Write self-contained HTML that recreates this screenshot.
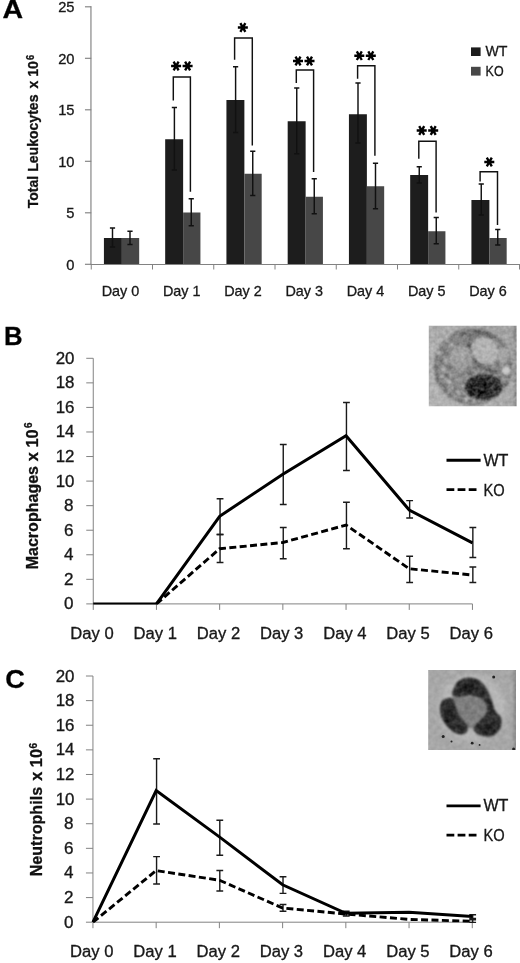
<!DOCTYPE html>
<html><head><meta charset="utf-8"><title>Figure</title>
<style>
html,body{margin:0;padding:0;background:#fff;}
svg{display:block;font-family:"Liberation Sans", sans-serif;filter:blur(0.4px);}
text{font-family:"Liberation Sans", sans-serif;stroke:#111;stroke-width:0.3px;}
</style></head>
<body>
<svg width="520" height="963" viewBox="0 0 520 963">
<rect width="520" height="963" fill="#fff"/>
<g id="panelA">
<rect x="103.92" y="238.00" width="17.95" height="26.50" fill="#1d1d1d"/>
<rect x="121.88" y="238.00" width="17.30" height="26.50" fill="#474747"/>
<rect x="165.18" y="139.25" width="17.95" height="125.25" fill="#1d1d1d"/>
<rect x="183.12" y="212.50" width="17.30" height="52.00" fill="#474747"/>
<rect x="226.43" y="100.00" width="17.95" height="164.50" fill="#1d1d1d"/>
<rect x="244.38" y="173.75" width="17.30" height="90.75" fill="#474747"/>
<rect x="287.68" y="121.25" width="17.95" height="143.25" fill="#1d1d1d"/>
<rect x="305.62" y="196.75" width="17.30" height="67.75" fill="#474747"/>
<rect x="348.93" y="114.25" width="17.95" height="150.25" fill="#1d1d1d"/>
<rect x="366.88" y="186.25" width="17.30" height="78.25" fill="#474747"/>
<rect x="410.18" y="175.00" width="17.95" height="89.50" fill="#1d1d1d"/>
<rect x="428.12" y="231.25" width="17.30" height="33.25" fill="#474747"/>
<rect x="471.43" y="200.00" width="17.95" height="64.50" fill="#1d1d1d"/>
<rect x="489.38" y="238.00" width="17.30" height="26.50" fill="#474747"/>
<path d="M90.95 6.3V264.5H520" fill="none" stroke="#828282" stroke-width="1.15"/>
<path d="M84.95 264.30H91.25" stroke="#828282" stroke-width="1.15"/>
<path d="M84.95 212.80H91.25" stroke="#828282" stroke-width="1.15"/>
<path d="M84.95 161.30H91.25" stroke="#828282" stroke-width="1.15"/>
<path d="M84.95 109.80H91.25" stroke="#828282" stroke-width="1.15"/>
<path d="M84.95 58.30H91.25" stroke="#828282" stroke-width="1.15"/>
<path d="M84.95 6.80H91.25" stroke="#828282" stroke-width="1.15"/>
<path d="M91.25 264.5V269.5" stroke="#828282" stroke-width="1"/>
<path d="M152.50 264.5V269.5" stroke="#828282" stroke-width="1"/>
<path d="M213.75 264.5V269.5" stroke="#828282" stroke-width="1"/>
<path d="M275.00 264.5V269.5" stroke="#828282" stroke-width="1"/>
<path d="M336.25 264.5V269.5" stroke="#828282" stroke-width="1"/>
<path d="M397.50 264.5V269.5" stroke="#828282" stroke-width="1"/>
<path d="M458.75 264.5V269.5" stroke="#828282" stroke-width="1"/>
<path d="M519.50 264.5V269.5" stroke="#828282" stroke-width="1"/>
<path d="M112.50 228.00V247.00M109.90 228.00h5.2M109.90 247.00h5.2" stroke="#111" stroke-width="1.45" fill="none"/>
<path d="M130.00 231.25V244.50M127.40 231.25h5.2M127.40 244.50h5.2" stroke="#111" stroke-width="1.45" fill="none"/>
<path d="M174.40 107.50V170.00M171.80 107.50h5.2M171.80 170.00h5.2" stroke="#111" stroke-width="1.45" fill="none"/>
<path d="M191.25 198.75V225.75M188.65 198.75h5.2M188.65 225.75h5.2" stroke="#111" stroke-width="1.45" fill="none"/>
<path d="M235.60 66.75V132.50M233.00 66.75h5.2M233.00 132.50h5.2" stroke="#111" stroke-width="1.45" fill="none"/>
<path d="M252.75 151.25V195.50M250.15 151.25h5.2M250.15 195.50h5.2" stroke="#111" stroke-width="1.45" fill="none"/>
<path d="M296.75 88.00V153.75M294.15 88.00h5.2M294.15 153.75h5.2" stroke="#111" stroke-width="1.45" fill="none"/>
<path d="M314.25 178.75V213.75M311.65 178.75h5.2M311.65 213.75h5.2" stroke="#111" stroke-width="1.45" fill="none"/>
<path d="M358.00 83.00V143.00M355.40 83.00h5.2M355.40 143.00h5.2" stroke="#111" stroke-width="1.45" fill="none"/>
<path d="M375.50 163.25V208.75M372.90 163.25h5.2M372.90 208.75h5.2" stroke="#111" stroke-width="1.45" fill="none"/>
<path d="M419.25 166.75V183.00M416.65 166.75h5.2M416.65 183.00h5.2" stroke="#111" stroke-width="1.45" fill="none"/>
<path d="M436.25 217.50V243.75M433.65 217.50h5.2M433.65 243.75h5.2" stroke="#111" stroke-width="1.45" fill="none"/>
<path d="M481.25 184.00V215.00M478.65 184.00h5.2M478.65 215.00h5.2" stroke="#111" stroke-width="1.45" fill="none"/>
<path d="M497.75 229.50V245.00M495.15 229.50h5.2M495.15 245.00h5.2" stroke="#111" stroke-width="1.45" fill="none"/>
<path d="M173.3 100.5V77.0H190.4V191.75" fill="none" stroke="#111" stroke-width="1.45"/>
<path d="M171.10 66.00L181.10 66.00M173.60 61.67L178.60 70.33M178.60 61.67L173.60 70.33" stroke="#000" stroke-width="2.35" fill="none"/>
<path d="M182.60 66.00L192.60 66.00M185.10 61.67L190.10 70.33M190.10 61.67L185.10 70.33" stroke="#000" stroke-width="2.35" fill="none"/>
<path d="M234.6 59.7V38.0H252.3V145.5" fill="none" stroke="#111" stroke-width="1.45"/>
<path d="M237.85 27.50L247.85 27.50M240.35 23.17L245.35 31.83M245.35 23.17L240.35 31.83" stroke="#000" stroke-width="2.35" fill="none"/>
<path d="M296.3 83.0V70.0H313.6V172.0" fill="none" stroke="#111" stroke-width="1.45"/>
<path d="M293.00 61.00L303.00 61.00M295.50 56.67L300.50 65.33M300.50 56.67L295.50 65.33" stroke="#000" stroke-width="2.35" fill="none"/>
<path d="M304.50 61.00L314.50 61.00M307.00 56.67L312.00 65.33M312.00 56.67L307.00 65.33" stroke="#000" stroke-width="2.35" fill="none"/>
<path d="M357.6 78.75V65.75H374.9V155.75" fill="none" stroke="#111" stroke-width="1.45"/>
<path d="M354.30 55.70L364.30 55.70M356.80 51.37L361.80 60.03M361.80 51.37L356.80 60.03" stroke="#000" stroke-width="2.35" fill="none"/>
<path d="M365.80 55.70L375.80 55.70M368.30 51.37L373.30 60.03M373.30 51.37L368.30 60.03" stroke="#000" stroke-width="2.35" fill="none"/>
<path d="M418.8 158.75V141.25H436.1V212.5" fill="none" stroke="#111" stroke-width="1.45"/>
<path d="M416.70 130.50L426.70 130.50M419.20 126.17L424.20 134.83M424.20 126.17L419.20 134.83" stroke="#000" stroke-width="2.35" fill="none"/>
<path d="M428.20 130.50L438.20 130.50M430.70 126.17L435.70 134.83M435.70 126.17L430.70 134.83" stroke="#000" stroke-width="2.35" fill="none"/>
<path d="M480.1 181.5V171.75H497.5V225.0" fill="none" stroke="#111" stroke-width="1.45"/>
<path d="M484.30 162.00L494.30 162.00M486.80 157.67L491.80 166.33M491.80 157.67L486.80 166.33" stroke="#000" stroke-width="2.35" fill="none"/>
<text x="74.5" y="269.60" font-size="14.7" text-anchor="end" fill="#1a1a1a">0</text>
<text x="74.5" y="218.10" font-size="14.7" text-anchor="end" fill="#1a1a1a">5</text>
<text x="74.5" y="166.60" font-size="14.7" text-anchor="end" fill="#1a1a1a">10</text>
<text x="74.5" y="115.10" font-size="14.7" text-anchor="end" fill="#1a1a1a">15</text>
<text x="74.5" y="63.60" font-size="14.7" text-anchor="end" fill="#1a1a1a">20</text>
<text x="74.5" y="12.10" font-size="14.7" text-anchor="end" fill="#1a1a1a">25</text>
<text x="120.47" y="296.4" font-size="14.8" text-anchor="middle" fill="#1a1a1a" textLength="37.6" lengthAdjust="spacingAndGlyphs">Day 0</text>
<text x="181.72" y="296.4" font-size="14.8" text-anchor="middle" fill="#1a1a1a" textLength="37.6" lengthAdjust="spacingAndGlyphs">Day 1</text>
<text x="242.97" y="296.4" font-size="14.8" text-anchor="middle" fill="#1a1a1a" textLength="37.6" lengthAdjust="spacingAndGlyphs">Day 2</text>
<text x="304.23" y="296.4" font-size="14.8" text-anchor="middle" fill="#1a1a1a" textLength="37.6" lengthAdjust="spacingAndGlyphs">Day 3</text>
<text x="365.48" y="296.4" font-size="14.8" text-anchor="middle" fill="#1a1a1a" textLength="37.6" lengthAdjust="spacingAndGlyphs">Day 4</text>
<text x="426.73" y="296.4" font-size="14.8" text-anchor="middle" fill="#1a1a1a" textLength="37.6" lengthAdjust="spacingAndGlyphs">Day 5</text>
<text x="487.98" y="296.4" font-size="14.8" text-anchor="middle" fill="#1a1a1a" textLength="37.6" lengthAdjust="spacingAndGlyphs">Day 6</text>
<text transform="translate(38.3 208.3) rotate(-90)" font-size="14" font-weight="bold" fill="#111" textLength="113.8" lengthAdjust="spacingAndGlyphs">Total Leukocytes</text>
<text transform="translate(38.3 88.6) rotate(-90)" font-size="14" font-weight="bold" fill="#111" textLength="27.4" lengthAdjust="spacingAndGlyphs">x 10</text>
<text transform="translate(33.8 60.1) rotate(-90)" font-size="10.2" font-weight="bold" fill="#111" textLength="5.2" lengthAdjust="spacingAndGlyphs">6</text>
<rect x="471" y="47.4" width="9.6" height="8.6" fill="#1c1c1c"/>
<rect x="471" y="66.8" width="9.6" height="8.8" fill="#474747"/>
<text x="485.4" y="55.9" font-size="14.3" fill="#1a1a1a" textLength="22" lengthAdjust="spacingAndGlyphs">WT</text>
<text x="485.6" y="76.1" font-size="14.3" fill="#1a1a1a" textLength="18" lengthAdjust="spacingAndGlyphs">KO</text>
<text x="2.4" y="18.4" font-size="25.2" font-weight="bold" fill="#000" textLength="20.6" lengthAdjust="spacingAndGlyphs">A</text>
</g>
<g id="panelB">
<path d="M93.25 358.30V603.9H472.45" fill="none" stroke="#828282" stroke-width="1"/>
<path d="M86.25 603.90H93.25" stroke="#828282" stroke-width="1"/>
<path d="M86.25 579.34H93.25" stroke="#828282" stroke-width="1"/>
<path d="M86.25 554.78H93.25" stroke="#828282" stroke-width="1"/>
<path d="M86.25 530.22H93.25" stroke="#828282" stroke-width="1"/>
<path d="M86.25 505.66H93.25" stroke="#828282" stroke-width="1"/>
<path d="M86.25 481.10H93.25" stroke="#828282" stroke-width="1"/>
<path d="M86.25 456.54H93.25" stroke="#828282" stroke-width="1"/>
<path d="M86.25 431.98H93.25" stroke="#828282" stroke-width="1"/>
<path d="M86.25 407.42H93.25" stroke="#828282" stroke-width="1"/>
<path d="M86.25 382.86H93.25" stroke="#828282" stroke-width="1"/>
<path d="M86.25 358.30H93.25" stroke="#828282" stroke-width="1"/>
<path d="M93.25 603.9V609.9" stroke="#828282" stroke-width="1"/>
<path d="M156.45 603.9V609.9" stroke="#828282" stroke-width="1"/>
<path d="M219.65 603.9V609.9" stroke="#828282" stroke-width="1"/>
<path d="M282.85 603.9V609.9" stroke="#828282" stroke-width="1"/>
<path d="M346.05 603.9V609.9" stroke="#828282" stroke-width="1"/>
<path d="M409.25 603.9V609.9" stroke="#828282" stroke-width="1"/>
<path d="M472.45 603.9V609.9" stroke="#828282" stroke-width="1"/>
<path d="M220.05 498.75V534.50M216.65 498.75h6.8M216.65 534.50h6.8" stroke="#1a1a1a" stroke-width="1.4" fill="none"/>
<path d="M283.25 444.50V504.50M279.85 444.50h6.8M279.85 504.50h6.8" stroke="#1a1a1a" stroke-width="1.4" fill="none"/>
<path d="M346.45 402.50V470.50M343.05 402.50h6.8M343.05 470.50h6.8" stroke="#1a1a1a" stroke-width="1.4" fill="none"/>
<path d="M409.65 500.60V518.00M406.25 500.60h6.8M406.25 518.00h6.8" stroke="#1a1a1a" stroke-width="1.4" fill="none"/>
<path d="M472.85 527.50V557.50M469.45 527.50h6.8M469.45 557.50h6.8" stroke="#1a1a1a" stroke-width="1.4" fill="none"/>
<path d="M220.05 534.50V562.50M216.65 534.50h6.8M216.65 562.50h6.8" stroke="#1a1a1a" stroke-width="1.4" fill="none"/>
<path d="M283.25 527.50V558.75M279.85 527.50h6.8M279.85 558.75h6.8" stroke="#1a1a1a" stroke-width="1.4" fill="none"/>
<path d="M346.45 502.20V548.75M343.05 502.20h6.8M343.05 548.75h6.8" stroke="#1a1a1a" stroke-width="1.4" fill="none"/>
<path d="M409.65 556.25V582.50M406.25 556.25h6.8M406.25 582.50h6.8" stroke="#1a1a1a" stroke-width="1.4" fill="none"/>
<path d="M472.85 567.00V582.50M469.45 567.00h6.8M469.45 582.50h6.8" stroke="#1a1a1a" stroke-width="1.4" fill="none"/>
<clipPath id="cppanelB"><rect x="91.25" y="338.30" width="385.20" height="266.10"/></clipPath>
<g clip-path="url(#cppanelB)">
<polyline points="156.45,603.90 219.65,548.75 282.85,542.50 346.05,525.00 409.25,568.75 472.45,575.00" fill="none" stroke="#000" stroke-width="2.9" stroke-dasharray="7 3.4" stroke-linejoin="miter"/>
<polyline points="93.25,603.90 156.45,603.90 219.65,516.25 282.85,474.25 346.05,435.75 409.25,510.00 472.45,542.80" fill="none" stroke="#000" stroke-width="3.0" stroke-linejoin="miter"/>
</g>
<text x="64.00" y="609.40" font-size="15.6" fill="#1a1a1a" textLength="9.5" lengthAdjust="spacingAndGlyphs">0</text>
<text x="64.00" y="584.84" font-size="15.6" fill="#1a1a1a" textLength="9.5" lengthAdjust="spacingAndGlyphs">2</text>
<text x="64.00" y="560.28" font-size="15.6" fill="#1a1a1a" textLength="9.5" lengthAdjust="spacingAndGlyphs">4</text>
<text x="64.00" y="535.72" font-size="15.6" fill="#1a1a1a" textLength="9.5" lengthAdjust="spacingAndGlyphs">6</text>
<text x="64.00" y="511.16" font-size="15.6" fill="#1a1a1a" textLength="9.5" lengthAdjust="spacingAndGlyphs">8</text>
<text x="55.70" y="486.60" font-size="15.6" fill="#1a1a1a" textLength="18.8" lengthAdjust="spacingAndGlyphs">10</text>
<text x="55.70" y="462.04" font-size="15.6" fill="#1a1a1a" textLength="18.8" lengthAdjust="spacingAndGlyphs">12</text>
<text x="55.70" y="437.48" font-size="15.6" fill="#1a1a1a" textLength="18.8" lengthAdjust="spacingAndGlyphs">14</text>
<text x="55.70" y="412.92" font-size="15.6" fill="#1a1a1a" textLength="18.8" lengthAdjust="spacingAndGlyphs">16</text>
<text x="55.70" y="388.36" font-size="15.6" fill="#1a1a1a" textLength="18.8" lengthAdjust="spacingAndGlyphs">18</text>
<text x="55.70" y="363.80" font-size="15.6" fill="#1a1a1a" textLength="18.8" lengthAdjust="spacingAndGlyphs">20</text>
<text x="92.05" y="638.8" font-size="16" text-anchor="middle" fill="#1a1a1a" textLength="43.4" lengthAdjust="spacingAndGlyphs">Day 0</text>
<text x="155.25" y="638.8" font-size="16" text-anchor="middle" fill="#1a1a1a" textLength="43.4" lengthAdjust="spacingAndGlyphs">Day 1</text>
<text x="218.45" y="638.8" font-size="16" text-anchor="middle" fill="#1a1a1a" textLength="43.4" lengthAdjust="spacingAndGlyphs">Day 2</text>
<text x="281.65" y="638.8" font-size="16" text-anchor="middle" fill="#1a1a1a" textLength="43.4" lengthAdjust="spacingAndGlyphs">Day 3</text>
<text x="344.85" y="638.8" font-size="16" text-anchor="middle" fill="#1a1a1a" textLength="43.4" lengthAdjust="spacingAndGlyphs">Day 4</text>
<text x="408.05" y="638.8" font-size="16" text-anchor="middle" fill="#1a1a1a" textLength="43.4" lengthAdjust="spacingAndGlyphs">Day 5</text>
<text x="471.25" y="638.8" font-size="16" text-anchor="middle" fill="#1a1a1a" textLength="43.4" lengthAdjust="spacingAndGlyphs">Day 6</text>
<text transform="translate(37.5 569.3) rotate(-90)" font-size="16.3" font-weight="bold" fill="#111" textLength="103.3" lengthAdjust="spacingAndGlyphs">Macrophages</text>
<text transform="translate(37.5 461.2) rotate(-90)" font-size="16.3" font-weight="bold" fill="#111" textLength="31.8" lengthAdjust="spacingAndGlyphs">x 10</text>
<text transform="translate(32.0 428.0) rotate(-90)" font-size="11.3" font-weight="bold" fill="#111" textLength="5.6" lengthAdjust="spacingAndGlyphs">6</text>
<path d="M446.5 460.3H480.6" stroke="#000" stroke-width="2.9"/>
<text x="483.4" y="465.7" font-size="16" fill="#1a1a1a" textLength="25" lengthAdjust="spacingAndGlyphs">WT</text>
<path d="M446.5 489.7H476.6" stroke="#000" stroke-width="2.8" stroke-dasharray="7.8 3.3"/>
<text x="483.4" y="495.7" font-size="16" fill="#1a1a1a" textLength="21.2" lengthAdjust="spacingAndGlyphs">KO</text>
<text x="3.9" y="345.3" font-size="25.2" font-weight="bold" fill="#000" textLength="18.6" lengthAdjust="spacingAndGlyphs">B</text>
</g>
<g id="micB">
<defs>
<filter id="texB" x="-10%" y="-10%" width="120%" height="120%" color-interpolation-filters="sRGB">
<feGaussianBlur in="SourceGraphic" stdDeviation="1.0" result="b"/>
<feTurbulence type="fractalNoise" baseFrequency="0.23" numOctaves="2" seed="11" result="t"/>
<feColorMatrix in="t" type="matrix" values="1 0 0 0 0  1 0 0 0 0  1 0 0 0 0  0 0 0 0 1" result="g"/>
<feComposite in="b" in2="g" operator="arithmetic" k1="-0.6" k2="1.3" k3="0.6" k4="-0.3" result="m"/>
<feGaussianBlur in="m" stdDeviation="0.45"/>
</filter>
<filter id="texBbg" x="0" y="0" width="100%" height="100%" color-interpolation-filters="sRGB">
<feTurbulence type="fractalNoise" baseFrequency="0.3" numOctaves="2" seed="4" result="t"/>
<feColorMatrix in="t" type="matrix" values="1 0 0 0 0  1 0 0 0 0  1 0 0 0 0  0 0 0 0 1" result="g"/>
<feComposite in="SourceGraphic" in2="g" operator="arithmetic" k1="0" k2="1" k3="0.12" k4="-0.06"/>
</filter>
<linearGradient id="bgB" x1="0" y1="1" x2="1" y2="0">
<stop offset="0" stop-color="#b4b4b4"/><stop offset="0.55" stop-color="#aaaaaa"/><stop offset="1" stop-color="#9c9c9c"/>
</linearGradient>
<clipPath id="clB"><rect x="428.8" y="325.8" width="87.8" height="80.4"/></clipPath>
</defs>
<g clip-path="url(#clB)">
<g filter="url(#texB)">
<rect x="420" y="318" width="106" height="96" fill="url(#bgB)"/>
<rect x="514" y="318" width="12" height="96" fill="#8e8e8e"/>
<ellipse cx="473.2" cy="366.6" rx="39.8" ry="38.8" fill="#909090"/>
<ellipse cx="473.2" cy="366.6" rx="37" ry="36" fill="none" stroke="#7a7a7a" stroke-width="3.5"/>
<ellipse cx="472" cy="366" rx="33" ry="32" fill="#868686"/>
<path d="M462 334 Q478 330 492 337" stroke="#6c6c6c" stroke-width="5" fill="none" stroke-linecap="round"/>
<path d="M470 340 Q468 352 477 362 Q484 368 494 372" stroke="#666" stroke-width="4.5" fill="none" stroke-linecap="round"/>
<ellipse cx="460.5" cy="357.5" rx="11" ry="12" fill="#a0a0a0"/>
<ellipse cx="455" cy="378" rx="8" ry="9" fill="#8c8c8c"/>
<ellipse cx="484.8" cy="350.8" rx="12.6" ry="14.6" fill="#b2b2b2" transform="rotate(-40 484.8 350.8)"/>
<ellipse cx="503.5" cy="355" rx="6" ry="7.5" fill="#a6a6a6"/>
<ellipse cx="483.5" cy="387" rx="18.6" ry="12.6" fill="#343434" transform="rotate(-4 483.5 387)"/>
<ellipse cx="479" cy="389.5" rx="12" ry="7.5" fill="#242424"/>
<circle cx="506.4" cy="370.4" r="4.2" fill="#cacaca"/>
<g fill="#c4c4c4">
<circle cx="437" cy="347" r="1.6"/><circle cx="442" cy="376" r="1.7"/><circle cx="453" cy="388" r="1.6"/><circle cx="447" cy="340" r="1.5"/><circle cx="439" cy="353" r="2"/><circle cx="443" cy="369" r="1.8"/><circle cx="449" cy="382" r="2"/>
<circle cx="458" cy="392" r="1.8"/><circle cx="452" cy="345" r="1.7"/><circle cx="466" cy="399" r="1.7"/>
<circle cx="446" cy="360" r="1.6"/><circle cx="463" cy="386" r="1.6"/>
<circle cx="474" cy="401" r="1.5"/><circle cx="490" cy="403" r="1.6"/>
</g>
<g fill="#666">
<circle cx="441" cy="361" r="1.6"/><circle cx="446" cy="376" r="1.6"/>
<circle cx="455" cy="388" r="1.5"/><circle cx="470" cy="373" r="2.4"/><circle cx="499" cy="378" r="2.4"/>
</g>
</g>
</g>
</g>
<g id="panelC">
<path d="M92.95 676.00V922.2H472.27" fill="none" stroke="#828282" stroke-width="1"/>
<path d="M85.95 922.20H92.95" stroke="#828282" stroke-width="1"/>
<path d="M85.95 897.58H92.95" stroke="#828282" stroke-width="1"/>
<path d="M85.95 872.96H92.95" stroke="#828282" stroke-width="1"/>
<path d="M85.95 848.34H92.95" stroke="#828282" stroke-width="1"/>
<path d="M85.95 823.72H92.95" stroke="#828282" stroke-width="1"/>
<path d="M85.95 799.10H92.95" stroke="#828282" stroke-width="1"/>
<path d="M85.95 774.48H92.95" stroke="#828282" stroke-width="1"/>
<path d="M85.95 749.86H92.95" stroke="#828282" stroke-width="1"/>
<path d="M85.95 725.24H92.95" stroke="#828282" stroke-width="1"/>
<path d="M85.95 700.62H92.95" stroke="#828282" stroke-width="1"/>
<path d="M85.95 676.00H92.95" stroke="#828282" stroke-width="1"/>
<path d="M92.95 922.2V928.2" stroke="#828282" stroke-width="1"/>
<path d="M156.17 922.2V928.2" stroke="#828282" stroke-width="1"/>
<path d="M219.39 922.2V928.2" stroke="#828282" stroke-width="1"/>
<path d="M282.61 922.2V928.2" stroke="#828282" stroke-width="1"/>
<path d="M345.83 922.2V928.2" stroke="#828282" stroke-width="1"/>
<path d="M409.05 922.2V928.2" stroke="#828282" stroke-width="1"/>
<path d="M472.27 922.2V928.2" stroke="#828282" stroke-width="1"/>
<path d="M156.57 758.80V824.00M153.17 758.80h6.8M153.17 824.00h6.8" stroke="#1a1a1a" stroke-width="1.4" fill="none"/>
<path d="M219.79 820.20V855.20M216.39 820.20h6.8M216.39 855.20h6.8" stroke="#1a1a1a" stroke-width="1.4" fill="none"/>
<path d="M283.01 876.70V893.40M279.61 876.70h6.8M279.61 893.40h6.8" stroke="#1a1a1a" stroke-width="1.4" fill="none"/>
<path d="M472.67 914.80V918.40M469.27 914.80h6.8M469.27 918.40h6.8" stroke="#1a1a1a" stroke-width="1.4" fill="none"/>
<path d="M156.57 856.60V884.00M153.17 856.60h6.8M153.17 884.00h6.8" stroke="#1a1a1a" stroke-width="1.4" fill="none"/>
<path d="M219.79 870.50V891.00M216.39 870.50h6.8M216.39 891.00h6.8" stroke="#1a1a1a" stroke-width="1.4" fill="none"/>
<path d="M283.01 904.50V911.20M279.61 904.50h6.8M279.61 911.20h6.8" stroke="#1a1a1a" stroke-width="1.4" fill="none"/>
<path d="M346.23 911.20V916.00M342.83 911.20h6.8M342.83 916.00h6.8" stroke="#1a1a1a" stroke-width="1.4" fill="none"/>
<path d="M472.67 919.80V922.40M469.27 919.80h6.8M469.27 922.40h6.8" stroke="#1a1a1a" stroke-width="1.4" fill="none"/>
<clipPath id="cppanelC"><rect x="90.95" y="656.00" width="385.32" height="266.70"/></clipPath>
<g clip-path="url(#cppanelC)">
<polyline points="92.95,922.20 156.17,870.60 219.39,880.20 282.61,908.00 345.83,914.00 409.05,919.40 472.27,921.30" fill="none" stroke="#000" stroke-width="2.9" stroke-dasharray="7 3.4" stroke-linejoin="miter"/>
<polyline points="92.95,922.20 156.17,790.60 219.39,836.90 282.61,884.80 345.83,913.30 409.05,912.30 472.27,916.50" fill="none" stroke="#000" stroke-width="3.0" stroke-linejoin="miter"/>
</g>
<text x="64.00" y="927.70" font-size="15.6" fill="#1a1a1a" textLength="9.5" lengthAdjust="spacingAndGlyphs">0</text>
<text x="64.00" y="903.08" font-size="15.6" fill="#1a1a1a" textLength="9.5" lengthAdjust="spacingAndGlyphs">2</text>
<text x="64.00" y="878.46" font-size="15.6" fill="#1a1a1a" textLength="9.5" lengthAdjust="spacingAndGlyphs">4</text>
<text x="64.00" y="853.84" font-size="15.6" fill="#1a1a1a" textLength="9.5" lengthAdjust="spacingAndGlyphs">6</text>
<text x="64.00" y="829.22" font-size="15.6" fill="#1a1a1a" textLength="9.5" lengthAdjust="spacingAndGlyphs">8</text>
<text x="55.70" y="804.60" font-size="15.6" fill="#1a1a1a" textLength="18.8" lengthAdjust="spacingAndGlyphs">10</text>
<text x="55.70" y="779.98" font-size="15.6" fill="#1a1a1a" textLength="18.8" lengthAdjust="spacingAndGlyphs">12</text>
<text x="55.70" y="755.36" font-size="15.6" fill="#1a1a1a" textLength="18.8" lengthAdjust="spacingAndGlyphs">14</text>
<text x="55.70" y="730.74" font-size="15.6" fill="#1a1a1a" textLength="18.8" lengthAdjust="spacingAndGlyphs">16</text>
<text x="55.70" y="706.12" font-size="15.6" fill="#1a1a1a" textLength="18.8" lengthAdjust="spacingAndGlyphs">18</text>
<text x="55.70" y="681.50" font-size="15.6" fill="#1a1a1a" textLength="18.8" lengthAdjust="spacingAndGlyphs">20</text>
<text x="91.75" y="957.3" font-size="16" text-anchor="middle" fill="#1a1a1a" textLength="43.4" lengthAdjust="spacingAndGlyphs">Day 0</text>
<text x="154.97" y="957.3" font-size="16" text-anchor="middle" fill="#1a1a1a" textLength="43.4" lengthAdjust="spacingAndGlyphs">Day 1</text>
<text x="218.19" y="957.3" font-size="16" text-anchor="middle" fill="#1a1a1a" textLength="43.4" lengthAdjust="spacingAndGlyphs">Day 2</text>
<text x="281.41" y="957.3" font-size="16" text-anchor="middle" fill="#1a1a1a" textLength="43.4" lengthAdjust="spacingAndGlyphs">Day 3</text>
<text x="344.63" y="957.3" font-size="16" text-anchor="middle" fill="#1a1a1a" textLength="43.4" lengthAdjust="spacingAndGlyphs">Day 4</text>
<text x="407.85" y="957.3" font-size="16" text-anchor="middle" fill="#1a1a1a" textLength="43.4" lengthAdjust="spacingAndGlyphs">Day 5</text>
<text x="471.07" y="957.3" font-size="16" text-anchor="middle" fill="#1a1a1a" textLength="43.4" lengthAdjust="spacingAndGlyphs">Day 6</text>
<text transform="translate(41.8 876.3) rotate(-90)" font-size="16.3" font-weight="bold" fill="#111" textLength="89.4" lengthAdjust="spacingAndGlyphs">Neutrophils</text>
<text transform="translate(41.8 780.8) rotate(-90)" font-size="16.3" font-weight="bold" fill="#111" textLength="31.8" lengthAdjust="spacingAndGlyphs">x 10</text>
<text transform="translate(37.0 748.6) rotate(-90)" font-size="11.3" font-weight="bold" fill="#111" textLength="5.6" lengthAdjust="spacingAndGlyphs">6</text>
<path d="M446.5 805.9H480.6" stroke="#000" stroke-width="2.9"/>
<text x="483.4" y="810.9" font-size="16" fill="#1a1a1a" textLength="25" lengthAdjust="spacingAndGlyphs">WT</text>
<path d="M446.5 835.1H476.6" stroke="#000" stroke-width="2.8" stroke-dasharray="7.8 3.3"/>
<text x="483.4" y="840.5" font-size="16" fill="#1a1a1a" textLength="21.2" lengthAdjust="spacingAndGlyphs">KO</text>
<text x="5.2" y="688.3" font-size="25.2" font-weight="bold" fill="#000" textLength="19.6" lengthAdjust="spacingAndGlyphs">C</text>
</g>
<g id="micC">
<defs>
<filter id="texC" x="-10%" y="-10%" width="120%" height="120%" color-interpolation-filters="sRGB">
<feGaussianBlur in="SourceGraphic" stdDeviation="1.0" result="b"/>
<feTurbulence type="fractalNoise" baseFrequency="0.2" numOctaves="2" seed="5" result="t"/>
<feColorMatrix in="t" type="matrix" values="1 0 0 0 0  1 0 0 0 0  1 0 0 0 0  0 0 0 0 1" result="g"/>
<feComposite in="b" in2="g" operator="arithmetic" k1="-0.3" k2="1.15" k3="0.3" k4="-0.15" result="m"/>
<feGaussianBlur in="m" stdDeviation="0.4"/>
</filter>
<filter id="blC2" x="-20%" y="-20%" width="140%" height="140%"><feGaussianBlur stdDeviation="0.7"/></filter>
<filter id="blC3" x="-20%" y="-20%" width="140%" height="140%"><feGaussianBlur stdDeviation="2.5"/></filter>
<clipPath id="clC"><rect x="428.2" y="670" width="87.8" height="80"/></clipPath>
</defs>
<g clip-path="url(#clC)">
<g filter="url(#texC)">
<rect x="420" y="662" width="104" height="96" fill="#a7a7a7"/>
<rect x="513.6" y="662" width="12" height="96" fill="#8c8c8c"/>
<circle cx="472" cy="708" r="34" fill="#b6b6b6" filter="url(#blC3)"/>
<path d="M454.8 696.9C458.7 694.7 475.9 697.6 481.3 699.4C486.7 701.2 486.6 704.9 487.1 707.7C487.7 710.5 487.1 712.8 484.6 716.0C482.1 719.2 475.4 725.6 472.2 726.7C469.0 727.8 468.0 724.9 465.6 722.6C463.2 720.3 459.9 717.0 458.1 712.7C456.3 708.4 450.9 699.1 454.8 696.9Z" fill="#7e7e7e" stroke="#7e7e7e" stroke-width="3"/>
<path d="M452.3 692.8C452.9 690.5 454.7 684.6 457.3 682.1C459.9 679.6 464.3 677.9 468.0 677.6C471.7 677.3 476.4 678.4 479.6 680.4C482.8 682.4 485.0 686.0 487.1 689.5C489.2 693.0 490.6 697.5 492.0 701.1C493.4 704.7 493.8 708.2 495.3 711.0C496.8 713.8 500.1 714.9 501.0 717.6C501.9 720.4 501.7 724.6 500.6 727.5C499.5 730.4 497.2 733.5 494.5 735.0C491.8 736.5 487.6 736.9 484.6 736.6C481.6 736.3 478.1 734.8 476.3 733.3C474.5 731.8 473.2 729.6 473.8 727.5C474.4 725.4 477.5 723.2 479.6 720.9C481.7 718.6 485.1 716.2 486.2 713.5C487.3 710.8 487.0 706.9 486.2 704.4C485.4 701.9 484.1 700.1 481.3 698.6C478.6 697.1 473.3 695.6 469.7 695.3C466.1 695.0 462.4 696.8 459.8 696.9C457.2 697.0 455.2 696.8 454.0 696.1C452.8 695.4 451.8 695.1 452.3 692.8Z" fill="#2f2f2f"/>
<path d="M444.1 699.4C445.8 698.7 449.7 697.1 451.5 697.8C453.3 698.5 453.7 701.0 454.8 703.6C455.9 706.2 456.3 710.2 458.1 713.5C459.9 716.8 464.0 720.9 465.6 723.4C467.2 725.9 468.0 726.8 468.0 728.4C468.0 730.0 467.4 732.3 465.6 733.3C463.8 734.2 460.2 735.1 457.3 734.1C454.4 733.1 450.8 730.2 448.2 727.5C445.6 724.8 443.0 720.9 441.6 717.6C440.2 714.3 439.9 710.3 439.9 707.7C439.9 705.1 440.9 703.3 441.6 701.9C442.3 700.5 442.5 700.1 444.1 699.4Z" fill="#2f2f2f"/>
<ellipse cx="466" cy="688" rx="8" ry="5" fill="#1e1e1e"/>
<ellipse cx="449" cy="715" rx="5" ry="9" fill="#252525"/>
<ellipse cx="490" cy="728" rx="7" ry="5" fill="#262626"/>
</g>
<g filter="url(#blC2)" fill="#222">
<circle cx="493.7" cy="677.1" r="1.5"/><circle cx="443.2" cy="736.6" r="1.5"/><circle cx="472.2" cy="743.2" r="1.4"/>
<circle cx="451.5" cy="741.6" r="1.0"/><circle cx="513.6" cy="749" r="1.5"/><circle cx="479.6" cy="744.9" r="0.9"/>
</g>
</g>
</g>
</svg>
</body></html>
